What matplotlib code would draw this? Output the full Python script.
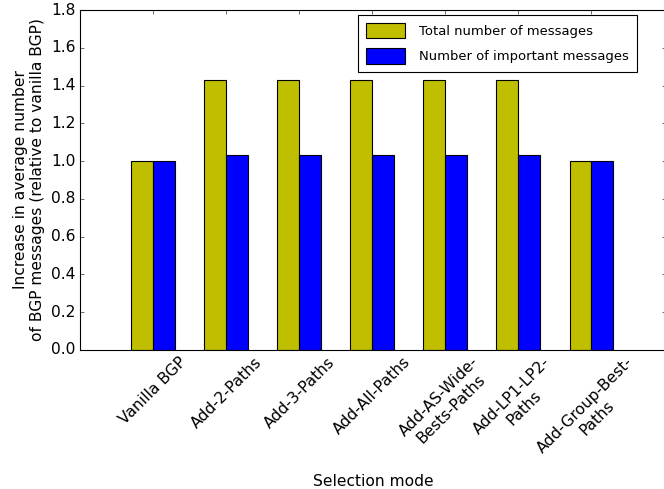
import matplotlib
matplotlib.use('Agg')
import matplotlib.pyplot as plt
import numpy as np

plt.style.use('classic')
plt.rcParams['font.size'] = 14

# Data
modes = ['Vanilla BGP', 'Add-2-Paths', 'Add-3-Paths', 'Add-All-Paths',
         'Add-AS-Wide-\nBests-Paths', 'Add-LP1-LP2-\nPaths', 'Add-Group-Best-\nPaths']
total_msgs = [1.0, 1.43, 1.43, 1.43, 1.43, 1.43, 1.0]
important_msgs = [1.0, 1.03, 1.03, 1.03, 1.03, 1.03, 1.0]

width = 0.3
ind = np.arange(len(modes))

fig = plt.figure(figsize=(8.3, 6.1125), dpi=80)
ax = fig.add_axes([80 / 664, 1 - 350 / 489, 586 / 664, 340 / 489])

ax.bar(ind, total_msgs, width, color='y', align='edge', label='Total number of messages')
ax.bar(ind + width, important_msgs, width, color='b', align='edge', label='Number of important messages')

ax.set_xlim(-0.7, 7.32)
ax.set_ylim(0, 1.8)
ax.set_xticks(ind + width)
ax.set_xticklabels(modes, rotation=45, ha='center', multialignment='center')

ax.set_xlabel('Selection mode', fontsize=14)
ax.set_ylabel('Increase in average number\nof BGP messages (relative to vanilla BGP)', fontsize=14)

ax.legend(loc='upper right', bbox_to_anchor=(637 / 664, 1 - 15 / 489),
          bbox_transform=fig.transFigure, borderaxespad=0, fontsize=11.8,
          handlelength=3, handleheight=1.4, handletextpad=1.1,
          labelspacing=0.8, borderpad=0.6)

fig.savefig('out.png', dpi=80)
